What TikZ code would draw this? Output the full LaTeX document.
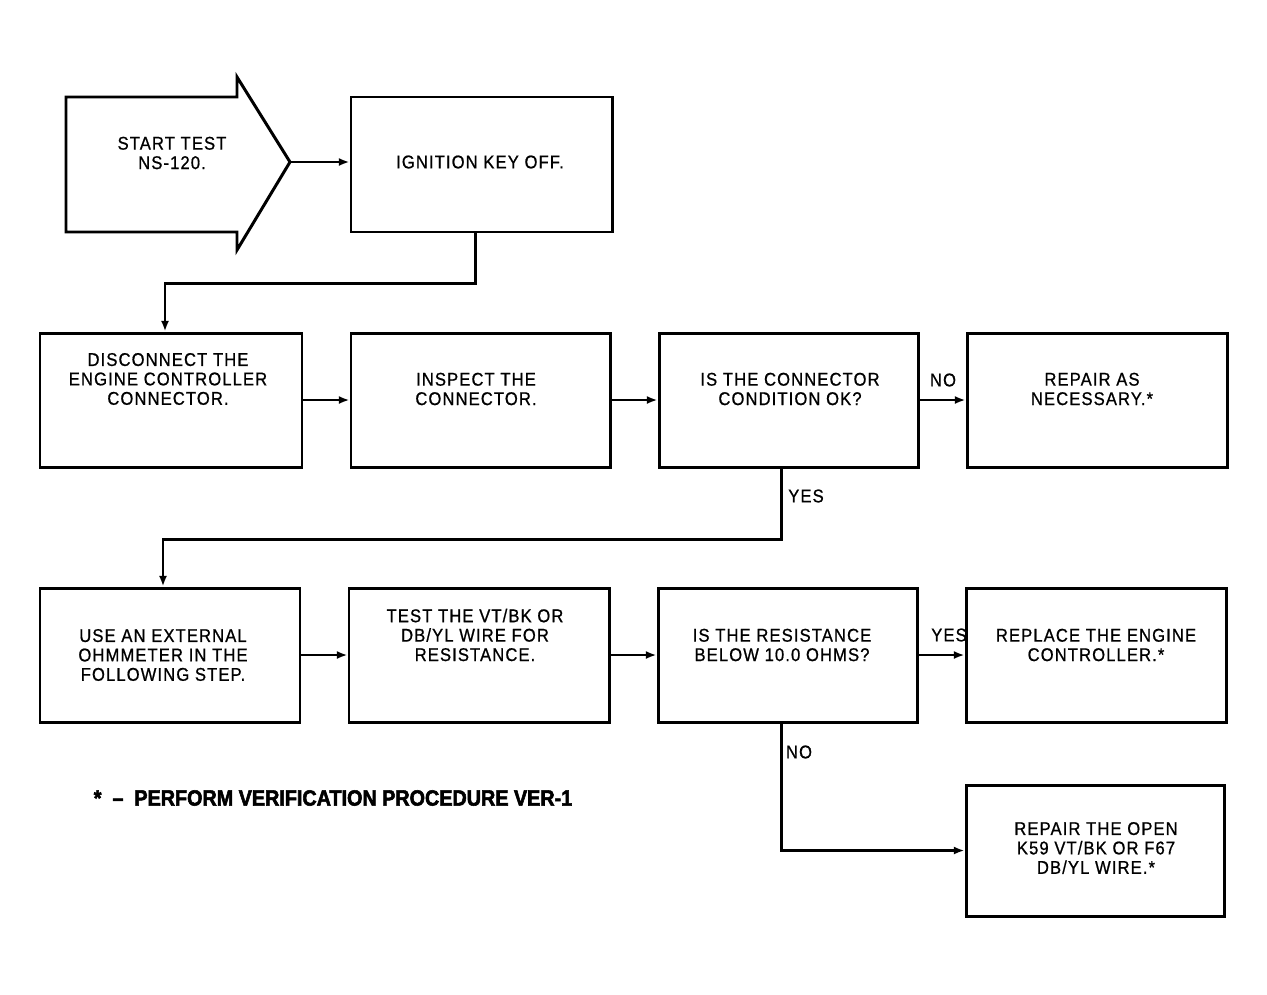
\documentclass[tikz,border=0pt]{standalone}
\usepackage{fontspec}
\usetikzlibrary{arrows.meta}
\newfontfamily\plotfont[FakeStretch=0.9,LetterSpace=6,FakeBold=0.8]{Liberation Sans}
\newfontfamily\heavyfont[FakeStretch=0.9,FakeBold=2.5]{Liberation Sans}
\tikzset{
  x=0.02cm, y=-0.02cm,
  bx/.style 2 args={draw, line width=1.7pt, inner sep=0pt,
     minimum width=#1*0.02cm, minimum height=#2*0.02cm},
  txt/.style={align=center, inner sep=0pt, font=\plotfont\fontsize{10.5}{11.05}\selectfont},
  lbl/.style={inner sep=0pt, font=\plotfont\fontsize{10.5}{12}\selectfont},
  conn/.style={line width=1.4pt, -{Latex[length=6pt,width=4.5pt]}},
}
\begin{document}
\begin{tikzpicture}
\useasboundingbox (0,0) rectangle (1267,994);
% start arrow
\draw[line width=1.7pt, line join=miter]
  (66,97) -- (237,97) -- (237,77) -- (290,162) -- (237,250) -- (237,232) -- (66,232) -- cycle;
\coordinate (starttip) at (290,162);
\node[txt] (tstart) at (172,153) {START TEST\\NS-120.};
% row 1
\node[bx={261}{135}] (ign) at (481.5,164.5) {};
\node[txt] (tign) at (480,162) {IGNITION KEY OFF.};
% row 2
\node[bx={262}{134}] (disc) at (171,400) {};
\node[txt] (tdisc) at (168,379) {DISCONNECT THE\\ENGINE CONTROLLER\\CONNECTOR.};
\node[bx={259}{134}] (insp) at (480.5,400) {};
\node[txt] (tinsp) at (476,389) {INSPECT THE\\CONNECTOR.};
\node[bx={259}{134}] (cond) at (788.5,400) {};
\node[txt] (tcond) at (790,389) {IS THE CONNECTOR\\CONDITION OK?};
\node[bx={260}{134}] (rep) at (1097,400) {};
\node[txt] (trep) at (1092,389) {REPAIR AS\\NECESSARY.*};
% row 3
\node[bx={260}{134}] (ohm) at (170,655) {};
\node[txt] (tohm) at (163,655) {USE AN EXTERNAL\\OHMMETER IN THE\\FOLLOWING STEP.};
\node[bx={260}{134}] (test) at (479,655) {};
\node[txt] (ttest) at (475,635) {TEST THE VT/BK OR\\DB/YL WIRE FOR\\RESISTANCE.};
\node[bx={259}{134}] (res) at (787.5,655) {};
\node[txt] (tres) at (782,645) {IS THE RESISTANCE\\BELOW 10.0 OHMS?};
\node[bx={260}{134}] (repl) at (1096,655) {};
\node[txt] (trepl) at (1096,645) {REPLACE THE ENGINE\\CONTROLLER.*};
% row 4
\node[bx={258}{131}] (open) at (1095,850.5) {};
\node[txt] (topen) at (1096,848) {REPAIR THE OPEN\\K59 VT/BK OR F67\\DB/YL WIRE.*};
% connectors
\draw[conn] (starttip) -- (starttip -| ign.west);
\draw[conn] ([xshift=-6*0.02cm]ign.south) -- ++(0,50) -| ([xshift=-6*0.02cm]disc.north);
\draw[conn] (disc.east) -- (insp.west);
\draw[conn] (insp.east) -- (cond.west);
\draw[conn] (cond.east) -- (rep.west);
\draw[conn] ([xshift=-7*0.02cm]cond.south) -- ++(0,71) -| ([xshift=-7*0.02cm]ohm.north);
\draw[conn] (ohm.east) -- (test.west);
\draw[conn] (test.east) -- (res.west);
\draw[conn] (res.east) -- (repl.west);
\draw[conn] ([xshift=-6*0.02cm]res.south) |- (open.west);
% labels
\node[lbl] (lno1) at (943,380) {NO};
\node[lbl] (lyes1) at (806,496) {YES};
\node[lbl] (lyes2) at (949,635) {YES};
\node[lbl] (lno2) at (799,752) {NO};
% footnote
\node[inner sep=0pt, font=\heavyfont\bfseries\fontsize{12.5}{14}\selectfont] (foot) at (333,798)
  {*\enspace –\enspace PERFORM VERIFICATION PROCEDURE VER-1};
\end{tikzpicture}
\end{document}
